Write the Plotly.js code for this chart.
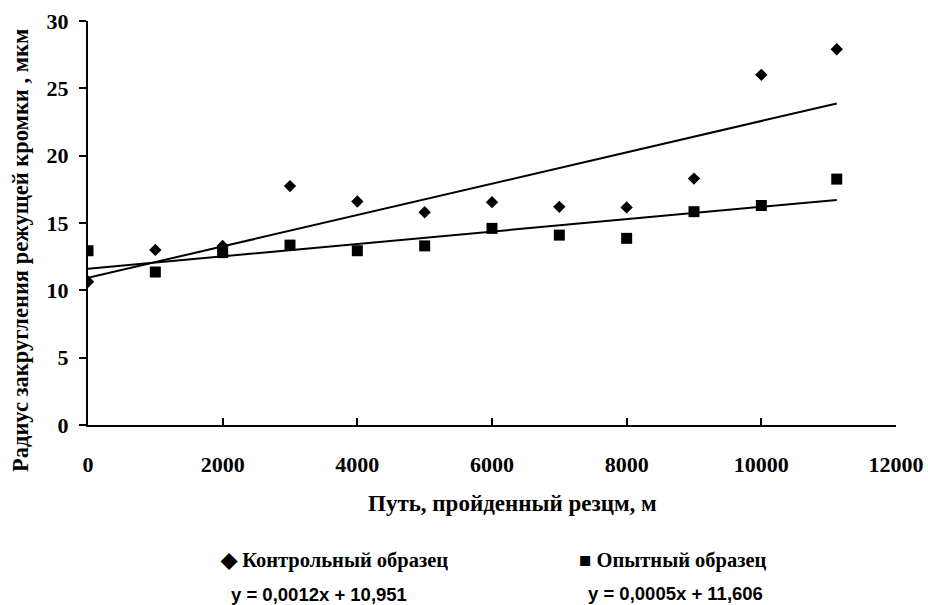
<!DOCTYPE html>
<html><head><meta charset="utf-8">
<script src="https://cdn.plot.ly/plotly-3.0.1.min.js"></script>
<style>body{margin:0;background:#fff}#c{width:928px;height:605px}</style>
</head><body><div id="c"></div>
<script>
const distance = [0, 1000, 2000, 3000, 4000, 5000, 6000, 7000, 8000, 9000, 10000, 11120];
const control = [10.64, 13.0, 13.3, 17.74, 16.6, 15.8, 16.55, 16.2, 16.16, 18.3, 26.0, 27.9];
const experimental = [12.94, 11.36, 12.8, 13.36, 12.94, 13.3, 14.6, 14.1, 13.86, 15.84, 16.3, 18.26];
const seriesNames = ['Контрольный образец', 'Опытный образец'];
const equations = ['y = 0,0012x + 10,951', 'y = 0,0005x + 11,606'];
const xTicks = [0, 2000, 4000, 6000, 8000, 10000, 12000];
const yTicks = [0, 5, 10, 15, 20, 25, 30];

function fit(xs, ys) {
  const n = xs.length;
  const mx = xs.reduce((a, b) => a + b, 0) / n;
  const my = ys.reduce((a, b) => a + b, 0) / n;
  let sxy = 0, sxx = 0;
  for (let i = 0; i < n; i++) { sxy += (xs[i] - mx) * (ys[i] - my); sxx += (xs[i] - mx) ** 2; }
  const k = sxy / sxx;
  return [k, my - k * mx];
}
function trend(xs, ys) {
  const [k, b] = fit(xs, ys);
  const x0 = xs[0], x1 = xs[xs.length - 1];
  return {x: [x0, x1], y: [k * x0 + b, k * x1 + b]};
}
const tc = trend(distance, control);
const te = trend(distance, experimental);

const serif = 'Liberation Serif';
const sans = 'Liberation Sans';
const traces = [
  {x: tc.x, y: tc.y, mode: 'lines', line: {color: '#000', width: 2}, hoverinfo: 'skip'},
  {x: te.x, y: te.y, mode: 'lines', line: {color: '#000', width: 2}, hoverinfo: 'skip'},
  {x: distance, y: control, mode: 'markers', name: seriesNames[0],
   marker: {symbol: 'diamond', size: 9.5, color: '#000'}},
  {x: distance, y: experimental, mode: 'markers', name: seriesNames[1],
   marker: {symbol: 'square', size: 11, color: '#000'}}
];
function note(text, px, py, font, extra) {
  return Object.assign({text: text, xref: 'paper', yref: 'paper', x: 0, y: 0,
    xshift: px - 88, yshift: 425 - py, showarrow: false, font: font,
    xanchor: 'center', yanchor: 'middle'}, extra || {});
}
const layout = {
  width: 928, height: 605,
  margin: {l: 88, r: 32, t: 21, b: 180},
  paper_bgcolor: '#fff', plot_bgcolor: '#fff',
  showlegend: false,
  font: {family: serif, color: '#000'},
  xaxis: {range: [0, 12000], tickvals: xTicks, ticktext: xTicks.map(String),
    showgrid: false, zeroline: false, showline: true, linecolor: '#000', linewidth: 2,
    ticks: 'inside', ticklen: 7, tickwidth: 2, tickcolor: '#000',
    tickfont: {family: serif, size: 22, weight: 'bold'}, ticklabelstandoff: 19},
  yaxis: {range: [0, 30], tickvals: yTicks, ticktext: yTicks.map(String),
    showgrid: false, zeroline: false, showline: true, linecolor: '#000', linewidth: 2,
    ticks: 'outside', ticklen: 7, tickwidth: 2, tickcolor: '#000',
    tickfont: {family: serif, size: 22, weight: 'bold'}, ticklabelstandoff: 6},
  annotations: [
    note('<b>Путь, пройденный резцм, м</b>', 512, 503, {family: serif, size: 23}),
    note('<b>Радиус закругления режущей кромки , мкм</b>', 20, 251, {family: serif, size: 22.5}, {textangle: -90}),
    note('<b>◆ ' + seriesNames[0] + '</b>', 334, 560, {family: serif, size: 20.5}),
    note('<b>■ ' + seriesNames[1] + '</b>', 673, 560, {family: serif, size: 20.5}),
    note('<b>' + equations[0] + '</b>', 319, 594, {family: sans, size: 18.5}),
    note('<b>' + equations[1] + '</b>', 675, 593, {family: sans, size: 18.5})
  ]
};
Plotly.newPlot('c', traces, layout, {displayModeBar: false, staticPlot: true});
</script></body></html>
